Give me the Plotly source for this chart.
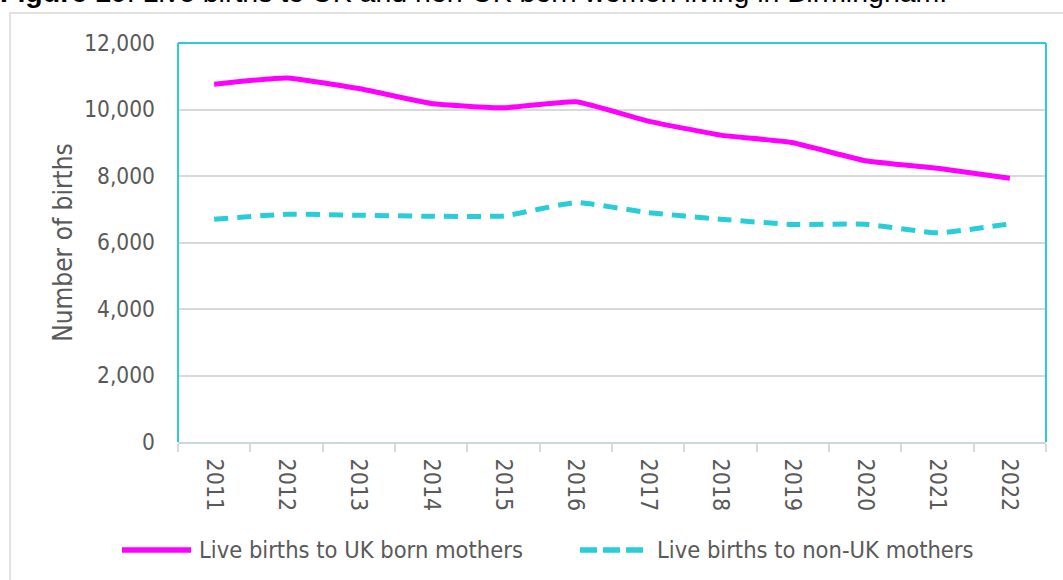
import plotly.graph_objects as go

years = ["2011", "2012", "2013", "2014", "2015", "2016", "2017", "2018", "2019", "2020", "2021", "2022"]
uk_born = [10760, 10950, 10630, 10180, 10050, 10230, 9650, 9230, 9000, 8460, 8230, 7930]
non_uk = [6700, 6850, 6820, 6790, 6800, 7200, 6900, 6700, 6540, 6550, 6290, 6560]
series_names = ["Live births to UK born mothers", "Live births to non-UK mothers"]
y_ticks = [0, 2000, 4000, 6000, 8000, 10000, 12000]

MAGENTA = "#FF00FF"
CYAN = "#29CDD7"
GRID = "#D9D9D9"
TEXT = "#595959"
FONT = "DejaVu Sans Condensed, DejaVu Sans, sans-serif"

W, H = 1063, 580
L, R, T, B = 178, 1046, 43, 442

def px(x):
    return (x - L) / (R - L)

def py(y):
    return (B - y) / (B - T)

fig = go.Figure()
fig.add_trace(go.Scatter(x=years, y=uk_born, mode="lines", name=series_names[0],
                         line=dict(color=MAGENTA, width=5, shape="spline", smoothing=0.4),
                         showlegend=False))
fig.add_trace(go.Scatter(x=years, y=non_uk, mode="lines", name=series_names[1],
                         line=dict(color=CYAN, width=5, shape="spline", smoothing=0.4, dash="14px,9px"),
                         showlegend=False))

shapes = [
    # outer chart frame
    dict(type="rect", xref="paper", yref="paper", x0=px(10), x1=px(1075), y0=py(595), y1=py(13),
         line=dict(color=GRID, width=1.5), fillcolor="rgba(0,0,0,0)", layer="below"),
    # plot border: left, top, right in cyan
    dict(type="line", xref="paper", yref="paper", x0=0, x1=0, y0=0, y1=1, line=dict(color=CYAN, width=2)),
    dict(type="line", xref="paper", yref="paper", x0=0, x1=1, y0=1, y1=1, line=dict(color=CYAN, width=2)),
    dict(type="line", xref="paper", yref="paper", x0=1, x1=1, y0=0, y1=1, line=dict(color=CYAN, width=2)),
    # legend samples
    dict(type="line", xref="paper", yref="paper", x0=px(122), x1=px(191), y0=py(550), y1=py(550),
         line=dict(color=MAGENTA, width=5.5)),
    dict(type="line", xref="paper", yref="paper", x0=px(580), x1=px(646), y0=py(550), y1=py(550),
         line=dict(color=CYAN, width=5.5, dash="17px,6px")),
]

annotations = [
    dict(xref="paper", yref="paper", x=px(197), y=py(550), xanchor="left", yanchor="middle",
         text=series_names[0], showarrow=False, font=dict(family=FONT, size=23.5, color=TEXT)),
    dict(xref="paper", yref="paper", x=px(655), y=py(550), xanchor="left", yanchor="middle",
         text=series_names[1], showarrow=False, font=dict(family=FONT, size=23.5, color=TEXT)),
    dict(xref="paper", yref="paper", x=px(-2), y=py(-8), xanchor="left", yanchor="middle",
         text="<b>Figure 10</b>: Live births to UK and non-UK born women living in Birmingham.",
         showarrow=False, font=dict(family="Liberation Sans, Arial, sans-serif", size=28.5, color="#000000")),
]

fig.update_layout(
    width=W, height=H,
    margin=dict(l=L, r=W - R, t=T, b=H - B, pad=0),
    paper_bgcolor="white", plot_bgcolor="white",
    showlegend=False,
    shapes=shapes,
    annotations=annotations,
    font=dict(family=FONT, size=23, color=TEXT),
)
fig.update_xaxes(type="category", tickangle=90, tickson="boundaries", ticks="outside",
                 ticklen=8, tickwidth=2, tickcolor=GRID, showline=True, linecolor="#C9D8D8", linewidth=2,
                 showgrid=False, tickfont=dict(family=FONT, size=23, color=TEXT), range=[-0.5, 11.5],
                 ticklabelstandoff=10)
fig.update_yaxes(range=[0, 12000], tickvals=y_ticks, tickformat=",", showgrid=True, gridcolor=GRID,
                 gridwidth=1.5, zeroline=False, showline=False, ticks="",
                 ticklabelstandoff=22,
                 tickfont=dict(family=FONT, size=22.5, color=TEXT),
                 title=dict(text="Number of births", font=dict(family=FONT, size=26, color=TEXT), standoff=4))

fig.write_html("out.html", config={"displayModeBar": False},
               post_script="document.body.style.margin='0';")
